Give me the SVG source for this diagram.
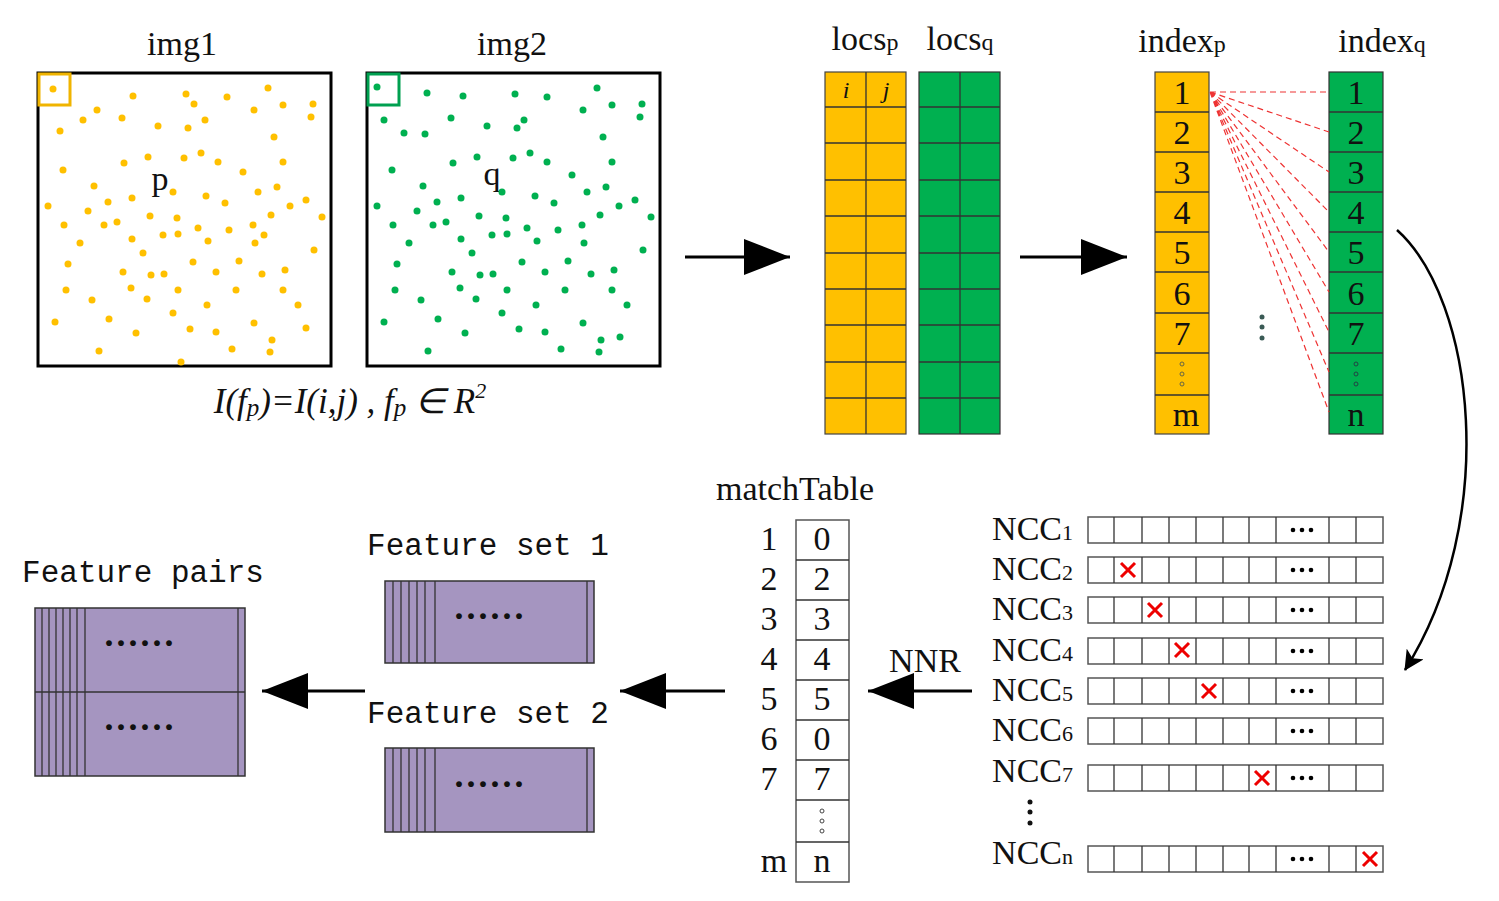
<svg xmlns="http://www.w3.org/2000/svg" width="1499" height="901" viewBox="0 0 1499 901">
<style>
text{font-family:"Liberation Serif",serif;fill:#111}
.t{font-size:34px}
.m{font-family:"Liberation Mono",monospace;font-size:31px}
.y{fill:#ffc000;stroke:#444;stroke-width:1.2}
.g{fill:#00b050;stroke:#333;stroke-width:1.2}
.c{fill:#fff;stroke:#555;stroke-width:1.5}
.pu{fill:#a595c0;stroke:#333;stroke-width:1.5}
.ln{stroke:#333;stroke-width:1.3}
.x{stroke:#e00;stroke-width:3;fill:none}
.rd{stroke:#e33;stroke-width:1.2;stroke-dasharray:6 4;fill:none}
.dd{font-size:36px;font-weight:bold}
</style>
<defs>
<marker id="ah" viewBox="0 0 20 20" refX="19" refY="10" markerWidth="20" markerHeight="20" orient="auto" markerUnits="userSpaceOnUse"><path d="M0,0 L20,10 L0,20 L5,10z" fill="#000"/></marker>
<marker id="ab" viewBox="0 0 46 36" refX="46" refY="18" markerWidth="46" markerHeight="36" orient="auto" markerUnits="userSpaceOnUse"><path d="M0,0 L46,18 L0,36z" fill="#000"/></marker>
</defs>
<g id="img1">
<text x="182" y="55" class="t" text-anchor="middle">img1</text>
<rect x="38" y="73" width="293" height="293" fill="#fff" stroke="#000" stroke-width="3"/>
<rect x="39" y="74" width="31" height="31" fill="none" stroke="#f0b400" stroke-width="3"/>
<text x="160" y="190" class="t" text-anchor="middle">p</text>
<g fill="#ffc000">
<circle cx="53" cy="89" r="3.5"/><circle cx="97" cy="110" r="3.5"/><circle cx="133" cy="96" r="3.5"/><circle cx="186" cy="94" r="3.5"/><circle cx="194" cy="104" r="3.5"/><circle cx="227" cy="97" r="3.5"/><circle cx="268" cy="88" r="3.5"/><circle cx="283" cy="105" r="3.5"/><circle cx="313" cy="104" r="3.5"/><circle cx="311" cy="117" r="3.5"/><circle cx="60" cy="131" r="3.5"/><circle cx="83" cy="120" r="3.5"/><circle cx="122" cy="118" r="3.5"/><circle cx="158" cy="126" r="3.5"/><circle cx="188" cy="128" r="3.5"/><circle cx="205" cy="120" r="3.5"/><circle cx="254" cy="110" r="3.5"/><circle cx="274" cy="137" r="3.5"/><circle cx="124" cy="163" r="3.5"/><circle cx="148" cy="157" r="3.5"/><circle cx="184" cy="158" r="3.5"/><circle cx="201" cy="153" r="3.5"/><circle cx="218" cy="162" r="3.5"/><circle cx="243" cy="172" r="3.5"/><circle cx="283" cy="162" r="3.5"/><circle cx="63" cy="170" r="3.5"/><circle cx="94" cy="186" r="3.5"/><circle cx="48" cy="206" r="3.5"/><circle cx="108" cy="202" r="3.5"/><circle cx="132" cy="198" r="3.5"/><circle cx="173" cy="192" r="3.5"/><circle cx="206" cy="196" r="3.5"/><circle cx="225" cy="203" r="3.5"/><circle cx="258" cy="192" r="3.5"/><circle cx="277" cy="187" r="3.5"/><circle cx="306" cy="200" r="3.5"/><circle cx="88" cy="211" r="3.5"/><circle cx="64" cy="225" r="3.5"/><circle cx="104" cy="225" r="3.5"/><circle cx="117" cy="222" r="3.5"/><circle cx="150" cy="216" r="3.5"/><circle cx="177" cy="218" r="3.5"/><circle cx="198" cy="228" r="3.5"/><circle cx="253" cy="225" r="3.5"/><circle cx="271" cy="215" r="3.5"/><circle cx="290" cy="206" r="3.5"/><circle cx="322" cy="217" r="3.5"/><circle cx="80" cy="243" r="3.5"/><circle cx="132" cy="239" r="3.5"/><circle cx="163" cy="235" r="3.5"/><circle cx="178" cy="234" r="3.5"/><circle cx="208" cy="241" r="3.5"/><circle cx="229" cy="230" r="3.5"/><circle cx="255" cy="243" r="3.5"/><circle cx="264" cy="235" r="3.5"/><circle cx="314" cy="250" r="3.5"/><circle cx="68" cy="264" r="3.5"/><circle cx="123" cy="272" r="3.5"/><circle cx="143" cy="253" r="3.5"/><circle cx="151" cy="275" r="3.5"/><circle cx="164" cy="274" r="3.5"/><circle cx="193" cy="262" r="3.5"/><circle cx="216" cy="272" r="3.5"/><circle cx="239" cy="261" r="3.5"/><circle cx="262" cy="274" r="3.5"/><circle cx="285" cy="270" r="3.5"/><circle cx="66" cy="290" r="3.5"/><circle cx="92" cy="300" r="3.5"/><circle cx="131" cy="288" r="3.5"/><circle cx="147" cy="299" r="3.5"/><circle cx="178" cy="290" r="3.5"/><circle cx="207" cy="305" r="3.5"/><circle cx="236" cy="290" r="3.5"/><circle cx="283" cy="290" r="3.5"/><circle cx="298" cy="305" r="3.5"/><circle cx="55" cy="322" r="3.5"/><circle cx="109" cy="319" r="3.5"/><circle cx="136" cy="333" r="3.5"/><circle cx="173" cy="313" r="3.5"/><circle cx="190" cy="329" r="3.5"/><circle cx="216" cy="332" r="3.5"/><circle cx="254" cy="323" r="3.5"/><circle cx="272" cy="340" r="3.5"/><circle cx="306" cy="328" r="3.5"/><circle cx="99" cy="351" r="3.5"/><circle cx="181" cy="362" r="3.5"/><circle cx="232" cy="349" r="3.5"/><circle cx="270" cy="352" r="3.5"/>
</g>
</g>
<g id="img2">
<text x="512" y="55" class="t" text-anchor="middle">img2</text>
<rect x="367" y="73" width="293" height="293" fill="#fff" stroke="#000" stroke-width="3"/>
<rect x="368" y="74" width="31" height="31" fill="none" stroke="#00a050" stroke-width="3"/>
<text x="492" y="185" class="t" text-anchor="middle">q</text>
<g fill="#00b050">
<circle cx="377" cy="87" r="3.5"/><circle cx="427" cy="93" r="3.5"/><circle cx="463" cy="96" r="3.5"/><circle cx="515" cy="94" r="3.5"/><circle cx="547" cy="97" r="3.5"/><circle cx="597" cy="88" r="3.5"/><circle cx="612" cy="105" r="3.5"/><circle cx="642" cy="104" r="3.5"/><circle cx="640" cy="117" r="3.5"/><circle cx="384" cy="120" r="3.5"/><circle cx="404" cy="133" r="3.5"/><circle cx="425" cy="134" r="3.5"/><circle cx="451" cy="118" r="3.5"/><circle cx="487" cy="126" r="3.5"/><circle cx="517" cy="128" r="3.5"/><circle cx="524" cy="120" r="3.5"/><circle cx="583" cy="110" r="3.5"/><circle cx="603" cy="137" r="3.5"/><circle cx="453" cy="163" r="3.5"/><circle cx="477" cy="157" r="3.5"/><circle cx="513" cy="158" r="3.5"/><circle cx="530" cy="153" r="3.5"/><circle cx="547" cy="162" r="3.5"/><circle cx="572" cy="175" r="3.5"/><circle cx="612" cy="162" r="3.5"/><circle cx="392" cy="170" r="3.5"/><circle cx="423" cy="186" r="3.5"/><circle cx="377" cy="206" r="3.5"/><circle cx="437" cy="202" r="3.5"/><circle cx="461" cy="198" r="3.5"/><circle cx="502" cy="192" r="3.5"/><circle cx="535" cy="196" r="3.5"/><circle cx="554" cy="203" r="3.5"/><circle cx="587" cy="192" r="3.5"/><circle cx="606" cy="187" r="3.5"/><circle cx="635" cy="200" r="3.5"/><circle cx="417" cy="211" r="3.5"/><circle cx="393" cy="225" r="3.5"/><circle cx="433" cy="225" r="3.5"/><circle cx="446" cy="222" r="3.5"/><circle cx="479" cy="216" r="3.5"/><circle cx="506" cy="218" r="3.5"/><circle cx="527" cy="228" r="3.5"/><circle cx="582" cy="225" r="3.5"/><circle cx="600" cy="215" r="3.5"/><circle cx="619" cy="206" r="3.5"/><circle cx="651" cy="217" r="3.5"/><circle cx="409" cy="243" r="3.5"/><circle cx="461" cy="239" r="3.5"/><circle cx="492" cy="235" r="3.5"/><circle cx="507" cy="234" r="3.5"/><circle cx="537" cy="241" r="3.5"/><circle cx="558" cy="230" r="3.5"/><circle cx="584" cy="243" r="3.5"/><circle cx="643" cy="250" r="3.5"/><circle cx="397" cy="264" r="3.5"/><circle cx="452" cy="272" r="3.5"/><circle cx="472" cy="253" r="3.5"/><circle cx="480" cy="275" r="3.5"/><circle cx="493" cy="274" r="3.5"/><circle cx="522" cy="262" r="3.5"/><circle cx="545" cy="272" r="3.5"/><circle cx="568" cy="261" r="3.5"/><circle cx="591" cy="274" r="3.5"/><circle cx="614" cy="270" r="3.5"/><circle cx="395" cy="290" r="3.5"/><circle cx="421" cy="300" r="3.5"/><circle cx="460" cy="288" r="3.5"/><circle cx="476" cy="299" r="3.5"/><circle cx="507" cy="290" r="3.5"/><circle cx="536" cy="305" r="3.5"/><circle cx="565" cy="290" r="3.5"/><circle cx="612" cy="290" r="3.5"/><circle cx="627" cy="305" r="3.5"/><circle cx="384" cy="322" r="3.5"/><circle cx="438" cy="319" r="3.5"/><circle cx="465" cy="333" r="3.5"/><circle cx="502" cy="313" r="3.5"/><circle cx="519" cy="329" r="3.5"/><circle cx="545" cy="332" r="3.5"/><circle cx="583" cy="323" r="3.5"/><circle cx="601" cy="340" r="3.5"/><circle cx="620" cy="337" r="3.5"/><circle cx="428" cy="351" r="3.5"/><circle cx="561" cy="349" r="3.5"/><circle cx="599" cy="352" r="3.5"/>
</g>
<text x="350" y="413" font-size="35" font-style="italic" text-anchor="middle">I(f<tspan font-size="25" dy="3">p</tspan><tspan dy="-3">)=I(i,j) , f</tspan><tspan font-size="25" dy="3">p</tspan><tspan dy="-3"> ∈ R</tspan><tspan font-size="22" dy="-15">2</tspan></text>
</g>
<g id="locsp">
<text x="865" y="50" class="t" text-anchor="middle">locs<tspan font-size="24">p</tspan></text>
<rect x="825" y="72" width="81" height="362" class="y"/>
<path class="ln" d="M866,72V434M825,107H906M825,143H906M825,180H906M825,216H906M825,253H906M825,289H906M825,325H906M825,362H906M825,398H906"/>
<text x="846" y="98" font-size="24" font-style="italic" text-anchor="middle">i</text>
<text x="886" y="98" font-size="24" font-style="italic" text-anchor="middle">j</text>
</g>
<g id="locsq">
<text x="960" y="50" class="t" text-anchor="middle">locs<tspan font-size="24">q</tspan></text>
<rect x="919" y="72" width="81" height="362" class="g"/>
<path class="ln" d="M960,72V434M919,107H1000M919,143H1000M919,180H1000M919,216H1000M919,253H1000M919,289H1000M919,325H1000M919,362H1000M919,398H1000"/>
</g>
<g id="indexp">
<text x="1182" y="52" class="t" text-anchor="middle">index<tspan font-size="24">p</tspan></text>
<rect x="1155" y="72" width="54" height="362" class="y"/>
<path class="ln" d="M1155,112H1209M1155,152H1209M1155,192H1209M1155,232H1209M1155,272H1209M1155,313H1209M1155,353H1209M1155,395H1209"/>
<g class="t" text-anchor="middle" font-size="34">
<text x="1182" y="104">1</text><text x="1182" y="144">2</text><text x="1182" y="184">3</text><text x="1182" y="224">4</text><text x="1182" y="264">5</text><text x="1182" y="305">6</text><text x="1182" y="345">7</text><text x="1186" y="426">m</text>
</g>
<g fill="none" stroke="#664" stroke-width="1"><circle cx="1182" cy="364" r="2"/><circle cx="1182" cy="374" r="2"/><circle cx="1182" cy="384" r="2"/></g>
</g>
<g id="indexq">
<text x="1382" y="52" class="t" text-anchor="middle">index<tspan font-size="24">q</tspan></text>
<rect x="1329" y="72" width="54" height="362" class="g"/>
<path class="ln" d="M1329,112H1383M1329,152H1383M1329,192H1383M1329,232H1383M1329,272H1383M1329,313H1383M1329,353H1383M1329,395H1383"/>
<g class="t" text-anchor="middle" font-size="34">
<text x="1356" y="104">1</text><text x="1356" y="144">2</text><text x="1356" y="184">3</text><text x="1356" y="224">4</text><text x="1356" y="264">5</text><text x="1356" y="305">6</text><text x="1356" y="345">7</text><text x="1356" y="426">n</text>
</g>
<g fill="none" stroke="#244" stroke-width="1"><circle cx="1356" cy="364" r="2"/><circle cx="1356" cy="374" r="2"/><circle cx="1356" cy="384" r="2"/></g>
<g fill="#3a5a55"><circle cx="1262" cy="317" r="2.5"/><circle cx="1262" cy="327" r="2.5"/><circle cx="1262" cy="338" r="2.5"/></g>
</g>
<g id="ncc">
<g class="t" font-size="32" text-anchor="end">
<text x="1073" y="540">NCC<tspan font-size="22">1</tspan></text>
<text x="1073" y="580">NCC<tspan font-size="22">2</tspan></text>
<text x="1073" y="620">NCC<tspan font-size="22">3</tspan></text>
<text x="1073" y="661">NCC<tspan font-size="22">4</tspan></text>
<text x="1073" y="701">NCC<tspan font-size="22">5</tspan></text>
<text x="1073" y="741">NCC<tspan font-size="22">6</tspan></text>
<text x="1073" y="782">NCC<tspan font-size="22">7</tspan></text>
<text x="1073" y="864">NCC<tspan font-size="22">n</tspan></text>
</g>
<g fill="#111"><circle cx="1030" cy="802" r="2.5"/><circle cx="1030" cy="812" r="2.5"/><circle cx="1030" cy="823" r="2.5"/></g>
<g id="rowtpl">
<rect x="1088" y="517" width="295" height="26" class="c"/>
<path class="ln" d="M1114,517v26M1142,517v26M1169,517v26M1196,517v26M1223,517v26M1249,517v26M1276,517v26M1329,517v26M1356,517v26"/>
<g fill="#000"><circle cx="1293" cy="530" r="2.3"/><circle cx="1302" cy="530" r="2.3"/><circle cx="1311" cy="530" r="2.3"/></g>
</g>
<use href="#rowtpl" y="40"/><use href="#rowtpl" y="80"/><use href="#rowtpl" y="121"/><use href="#rowtpl" y="161"/><use href="#rowtpl" y="201"/><use href="#rowtpl" y="248"/><use href="#rowtpl" y="329"/>
<path class="x" d="M1121,563l14,14M1135,563l-14,14M1148,603l14,14M1162,603l-14,14M1175,643l14,14M1189,643l-14,14M1202,684l14,14M1216,684l-14,14M1255,771l14,14M1269,771l-14,14M1363,852l14,14M1377,852l-14,14"/>
</g>
<g id="matchTable">
<text x="795" y="500" class="t" font-size="32" text-anchor="middle">matchTable</text>
<rect x="796" y="520" width="53" height="362" class="c"/>
<path class="ln" d="M796,560H849M796,600H849M796,640H849M796,680H849M796,720H849M796,760H849M796,800H849M796,842H849"/>
<g class="t" text-anchor="middle" font-size="32">
<text x="769" y="550">1</text><text x="769" y="590">2</text><text x="769" y="630">3</text><text x="769" y="670">4</text><text x="769" y="710">5</text><text x="769" y="750">6</text><text x="769" y="790">7</text><text x="774" y="872">m</text>
<text x="822" y="550">0</text><text x="822" y="590">2</text><text x="822" y="630">3</text><text x="822" y="670">4</text><text x="822" y="710">5</text><text x="822" y="750">0</text><text x="822" y="790">7</text><text x="822" y="872">n</text>
</g>
<g fill="none" stroke="#444" stroke-width="1"><circle cx="822" cy="811" r="2"/><circle cx="822" cy="821" r="2"/><circle cx="822" cy="831" r="2"/></g>
</g>
<g id="fset1">
<text x="488" y="555" class="m" text-anchor="middle">Feature set 1</text>
<rect x="385" y="581" width="209" height="82" class="pu"/>
<path class="ln" d="M393,581v82M401,581v82M409,581v82M417,581v82M425,581v82M435,581v82M587,581v82"/>
<text x="489" y="628" class="dd" text-anchor="middle">······</text>
</g>
<g id="fset2">
<text x="488" y="723" class="m" text-anchor="middle">Feature set 2</text>
<rect x="385" y="748" width="209" height="84" class="pu"/>
<path class="ln" d="M393,748v84M401,748v84M409,748v84M417,748v84M425,748v84M435,748v84M587,748v84"/>
<text x="489" y="796" class="dd" text-anchor="middle">······</text>
</g>
<g id="fpairs">
<text x="143" y="582" class="m" text-anchor="middle">Feature pairs</text>
<rect x="35" y="608" width="210" height="168" class="pu"/>
<path class="ln" d="M35,692H245M42,608v168M49,608v168M56,608v168M63,608v168M70,608v168M77,608v168M85,608v168M238,608v168"/>
<text x="139" y="655" class="dd" text-anchor="middle">······</text>
<text x="139" y="739" class="dd" text-anchor="middle">······</text>
</g>
<g id="connectors" stroke="#000" stroke-width="3" fill="none">
<path d="M685,257H790" marker-end="url(#ab)"/>
<path d="M1020,257H1127" marker-end="url(#ab)"/>
<path d="M972,691H868" marker-end="url(#ab)"/>
<path d="M725,691H620" marker-end="url(#ab)"/>
<path d="M365,691H262" marker-end="url(#ab)"/>
<path d="M1397,230 C1475,300 1500,520 1405,670" stroke-width="2.5" marker-end="url(#ah)"/>
<text x="925" y="672" class="t" font-size="32" text-anchor="middle" stroke="none" fill="#111">NNR</text>
<g class="rd">
<path d="M1210,92L1329,92M1210,92L1329,132M1210,92L1329,172M1210,92L1329,212M1210,92L1329,252M1210,92L1329,292M1210,92L1329,332M1210,92L1329,372M1210,92L1329,412"/>
</g>
</g>
</svg>
